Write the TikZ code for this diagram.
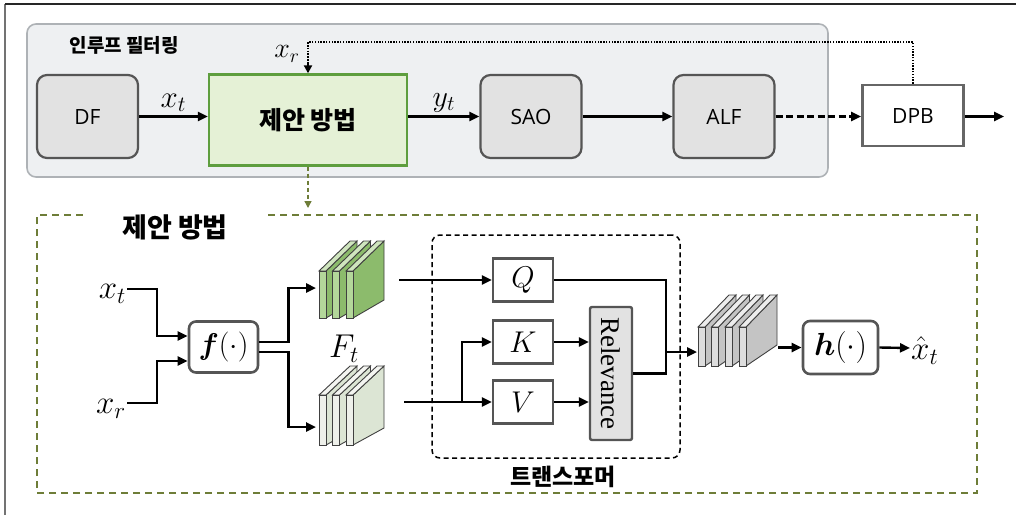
\documentclass[tikz,border=0pt]{standalone}
\usepackage{fontspec}
\usepackage{amsmath,bm,graphicx}
\usepackage{fix-cm}
\newfontfamily\kr{Noto Sans CJK KR}
\newfontfamily\ssf{Open Sans}
\newfontfamily\tms{Liberation Serif}
\usetikzlibrary{arrows.meta,calc}
\definecolor{panelfill}{HTML}{EEF0F2}
\definecolor{panelline}{HTML}{AEB2B6}
\definecolor{boxfill}{HTML}{E2E2E2}
\definecolor{boxline}{HTML}{555555}
\definecolor{gfill}{HTML}{E5F1D6}
\definecolor{gline}{HTML}{5E9E3E}
\definecolor{olive}{HTML}{6E7D38}
\definecolor{gfront}{HTML}{B3D79A}
\definecolor{gside}{HTML}{8CBB6C}
\definecolor{gtop}{HTML}{CFE5BE}
\definecolor{wfront}{HTML}{EEF0EA}
\definecolor{wside}{HTML}{DCE5D4}
\definecolor{wtop}{HTML}{F4F5F1}
\definecolor{bfront}{HTML}{DDDDDD}
\definecolor{bside}{HTML}{C4C4C4}
\definecolor{btop}{HTML}{EDEDED}
\def\sdx{31}
\newcommand\myslab[6]{% x, top, bottom, dt, db, prefix
  \filldraw[slabedge, fill=#6side] (#1+7,#2) -- (#1+7+\sdx,#2-#4) -- (#1+7+\sdx,#3-#5) -- (#1+7,#3) -- cycle;
  \filldraw[slabedge, fill=#6top] (#1,#2) -- (#1+\sdx,#2-#4) -- (#1+7+\sdx,#2-#4) -- (#1+7,#2) -- cycle;
  \filldraw[slabedge, fill=#6front] (#1,#2) rectangle (#1+7,#3);
}
\tikzset{
  arr/.style={line width=2.4pt, -{Triangle[length=10pt,width=9pt]}},
  ln/.style={line width=2.4pt},
  gbox/.style={draw=boxline, fill=boxfill, line width=2.2pt, rounded corners=10pt, font=\ssf\fontsize{21}{21}\selectfont},
  wbox/.style={draw=boxline!90, fill=white, line width=2.8pt, font=\ssf\fontsize{21}{21}\selectfont},
  fbx/.style={draw=boxline, fill=white, line width=2.6pt, rounded corners=7pt},
  qbox/.style={draw=boxline, fill=white, line width=2.4pt, minimum width=60pt, minimum height=43pt, font=\fontsize{30}{30}\selectfont},
  slabedge/.style={draw=black!75, line width=0.9pt},
  mlab/.style={inner sep=1pt, font=\fontsize{33}{33}\selectfont},
  krb/.style={font=\kr\bfseries#1},
}
\begin{document}
\begin{tikzpicture}[x=1pt,y=-1pt]
\useasboundingbox (0,0) rectangle (1016,515);
\draw[black!55, line width=1.2pt] (5,515) -- (5,4);
\draw[black!85, line width=1.2pt] (5,4) -- (1016,4);
% top panel
\node[draw=panelline, fill=panelfill, line width=1.6pt, rounded corners=9pt, minimum width=801pt, minimum height=153pt, inner sep=0] (panel) at (427.5,100.5) {};
\node[anchor=west, font=\kr\bfseries\fontsize{19}{19}\selectfont] (lbl1) at (66,45) {인루프 필터링};
\node[gbox, minimum width=101pt, minimum height=83pt] (DF) at (87.5,116.5) {DF};
\node[draw=gline, fill=gfill, line width=2.4pt, minimum width=198pt, minimum height=91pt, font=\kr\bfseries\fontsize{25}{25}\selectfont] (gb) at (308,120) {제안 방법};
\node[gbox, minimum width=101pt, minimum height=83pt] (SAO) at (531,116.5) {SAO};
\node[gbox, minimum width=101pt, minimum height=83pt] (ALF) at (724,116.5) {ALF};
\node[wbox, minimum width=101pt, minimum height=61pt] (DPB) at (913,115.5) {DPB};
\coordinate (out) at (1004,116.5);
\coordinate (fb1) at (913,42);
\coordinate (fb2) at (308,42);
\draw[arr] (DF.east) -- (DF.east -| gb.west) node[midway, above=0pt, font=\fontsize{31}{31}\selectfont] (xt1) {$x_t$};
\draw[arr] (DF.east -| gb.east) -- (SAO.west) node[midway, above=0pt, font=\fontsize{30}{30}\selectfont] (yt1) {$y_t$};
\draw[arr] (SAO.east) -- (ALF.west);
\draw[arr, dash pattern=on 7pt off 3.5pt] (ALF.east) -- (ALF.east -| DPB.west);
\draw[arr] (ALF.east -| DPB.east) -- (out);
\draw[line width=2.2pt, dash pattern=on 1.5pt off 1.3pt] (DPB.north) -- (fb1) -- (fb2) -- ($(gb.north)+(0,-9)$);
\draw[arr, -{Triangle[length=8pt,width=8pt]}] ($(gb.north)+(0,-10)$) -- (gb.north);
\node[font=\fontsize{28}{28}\selectfont] (xr1) at (287,54) {$x_r$};
% dashed link down
\coordinate (dn) at (308,208);
\draw[olive, line width=1.4pt, dash pattern=on 4pt off 3pt, -{Triangle[length=7pt,width=7pt]}] (gb.south) -- (dn);
% lower dashed frame
\node[krb=\fontsize{27}{27}\selectfont] (title) at (175,227) {제안 방법};
\draw[olive, line width=1.8pt, dash pattern=on 7pt off 5pt] (268,215) -- (977,215) -- (977,493) -- (37,493) -- (37,215) -- (84,215);
% left part
\node[mlab, anchor=east] (xt2) at (127,294) {$x_t$};
\node[mlab, anchor=east] (xr2) at (127,409) {$x_r$};
\node[fbx, minimum width=69pt, minimum height=51pt, font=\fontsize{30}{30}\selectfont] (fb) at (223.5,347) {$\bm{f}(\cdot)$};
\draw[arr] ($(xt2.east)+(0,-5)$) -- ++(30,0) |- ($(fb.west)+(0,-11)$);
\draw[arr] ($(xr2.east)+(0,-6)$) -- ++(30,0) |- ($(fb.west)+(0,14)$);
\coordinate (gin) at (316,288);
\coordinate (win) at (316,427);
\draw[arr] ($(fb.east)+(0,-5)$) -- ++(29,0) |- (gin);
\draw[arr] ($(fb.east)+(0,5)$) -- ++(29,0) |- (win);
% green stack
\myslab{319}{271}{318}{30}{18}{g}
\myslab{332.5}{271}{318}{30}{18}{g}
\myslab{346}{271}{318}{30}{18}{g}
\node[mlab] (Ft) at (344,349) {$F_t$};
% light stack
\myslab{319}{395}{445}{29}{17}{w}
\myslab{332.5}{395}{445}{29}{17}{w}
\myslab{346}{395}{445}{29}{17}{w}
% transformer
\node[draw, line width=1.5pt, dash pattern=on 5pt off 3.5pt, rounded corners=8pt, minimum width=248pt, minimum height=223pt, inner sep=0] (tf) at (556,346.5) {};
\node[krb=\fontsize{23}{23}\selectfont] (tflbl) at (563,477) {트랜스포머};
\node[qbox] (Q) at (523,280) {$Q$};
\node[qbox] (K) at (523,342) {$K$};
\node[qbox] (V) at (523,402) {$V$};
\node[draw=boxline, fill=boxfill, line width=2.4pt, rounded corners=2pt, minimum width=42pt, minimum height=133pt, inner sep=0, font=\tms\fontsize{27}{27}\selectfont] (Rel) at (611,373.5) {\rotatebox{-90}{Relevance}};
\coordinate (qs) at (399,280);
\coordinate (vs) at (404,402);
\coordinate (br) at (462,402);
\coordinate (mg) at (666,352);
\coordinate (bin) at (697,352);
\draw[arr] (qs) -- (Q.west);
\draw[ln] (vs) -- (br);
\draw[arr] (br) -- (V.west);
\draw[arr] (br) |- (K.west);
\draw[arr] (K.east) -- (K.east -| Rel.west);
\draw[arr] (V.east) -- (V.east -| Rel.west);
\draw[ln] (Q.east) -| (mg);
\draw[ln] (Rel.east) -| (mg);
\draw[arr] (mg) -- (bin);
% big stack
\myslab{698}{327}{366}{32}{21}{b}
\myslab{711.5}{327}{366}{32}{21}{b}
\myslab{725}{327}{366}{32}{21}{b}
\myslab{739}{327}{366}{32}{21}{b}
\coordinate (bout) at (778,347.5);
\node[fbx, minimum width=75pt, minimum height=53pt, font=\fontsize{32}{32}\selectfont] (hb) at (840.5,347.5) {$\bm{h}(\cdot)$};
\draw[arr] (bout) -- (hb.west);
\node[mlab, anchor=west] (xh) at (910,351) {$\hat{x}_t$};
\draw[arr] (hb.east) -- ($(xh.west)+(0,-3)$);
\end{tikzpicture}
\end{document}
